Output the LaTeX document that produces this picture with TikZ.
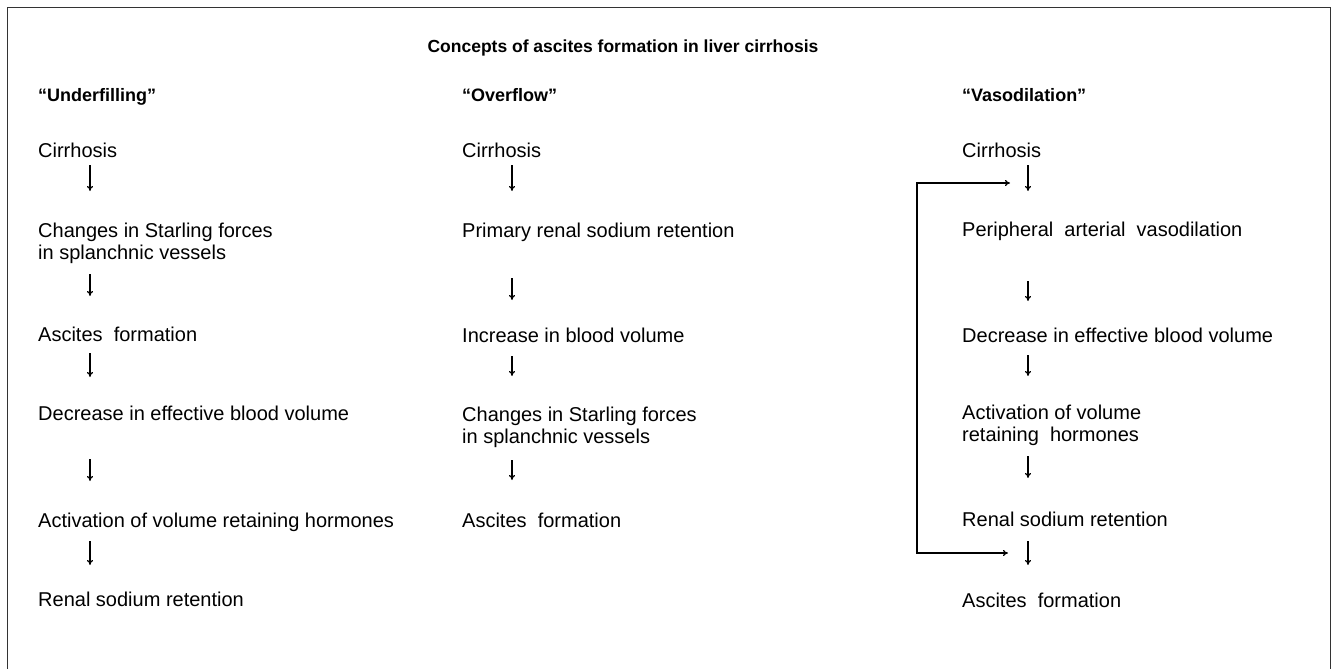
\documentclass[tikz,border=0pt]{standalone}
\usepackage{fontspec}
\setmainfont{Liberation Sans}
\usepackage{tikz}
\usetikzlibrary{positioning,arrows.meta}

\begin{document}
\begin{tikzpicture}[x=1pt,y=-1pt,
    txt/.style={anchor=base west,inner sep=0pt,align=left,font=\fontsize{20}{22}\selectfont},
    head/.style={anchor=base west,inner sep=0pt,font=\fontsize{18}{20}\selectfont\bfseries},
    flow/.style={-{To[length=5pt,width=6pt]},line width=1.1pt}]
    \useasboundingbox (0,0) rectangle (1334,669);
    \draw[line width=1pt,black!80] (7,669) -- (7,8) -- (1330,8) -- (1330,669);
    \node[head,anchor=base,font=\fontsize{17.5}{20}\selectfont\bfseries] (title) at (623,53) {Concepts of ascites formation in liver cirrhosis};

    \node[head] (hu) at (38,102) {``Underfilling''};
    \node[txt] (u1) at (38,157) {Cirrhosis};
    \node[txt] (u2) at (38,259) {Changes in Starling forces\\in splanchnic vessels};
    \node[txt] (u3) at (38,341) {Ascites\ \ formation};
    \node[txt] (u4) at (38,420) {Decrease in effective blood volume};
    \node[txt] (u5) at (38,527) {Activation of volume retaining hormones};
    \node[txt] (u6) at (38,606) {Renal sodium retention};

    \node[head] (ho) at (462,102) {``Overflow''};
    \node[txt] (o1) at (462,157) {Cirrhosis};
    \node[txt] (o2) at (462,237) {Primary renal sodium retention};
    \node[txt] (o3) at (462,342) {Increase in blood volume};
    \node[txt] (o4) at (462,443) {Changes in Starling forces\\in splanchnic vessels};
    \node[txt] (o5) at (462,527) {Ascites\ \ formation};

    \node[head] (hv) at (962,102) {``Vasodilation''};
    \node[txt] (v1) at (962,157) {Cirrhosis};
    \node[txt] (v2) at (962,236) {Peripheral\ \ arterial\ \ vasodilation};
    \node[txt] (v3) at (962,342) {Decrease in effective blood volume};
    \node[txt] (v4) at (962,441) {Activation of volume\\retaining\ \ hormones};
    \node[txt] (v5) at (962,526) {Renal sodium retention};
    \node[txt] (v6) at (962,607) {Ascites\ \ formation};

    \foreach \n/\a/\b in {u1/8/34,u2/15/37,u3/12/36,u4/39/61,u5/14/38}
      \draw[flow] ([shift={(52,\a)}]\n.base west) -- ([shift={(52,\b)}]\n.base west);
    \foreach \n/\a/\b in {o1/8/34,o2/41/63,o3/14/34,o4/17/37}
      \draw[flow] ([shift={(50,\a)}]\n.base west) -- ([shift={(50,\b)}]\n.base west);
    \foreach \n/\a/\b in {v1/8/34,v2/45/65,v3/13/34,v4/15/37,v5/15/39}
      \draw[flow] ([shift={(66,\a)}]\n.base west) -- ([shift={(66,\b)}]\n.base west);

    \coordinate (fbtop) at (1010,183);
    \coordinate (fbbot) at (1008,553);
    \draw[{To[length=5pt,width=6pt]}-{To[length=5pt,width=6pt]},line width=1.1pt]
      (fbtop) -- (917,183) -- (917,553) -- (fbbot);
  \end{tikzpicture}
\end{document}
